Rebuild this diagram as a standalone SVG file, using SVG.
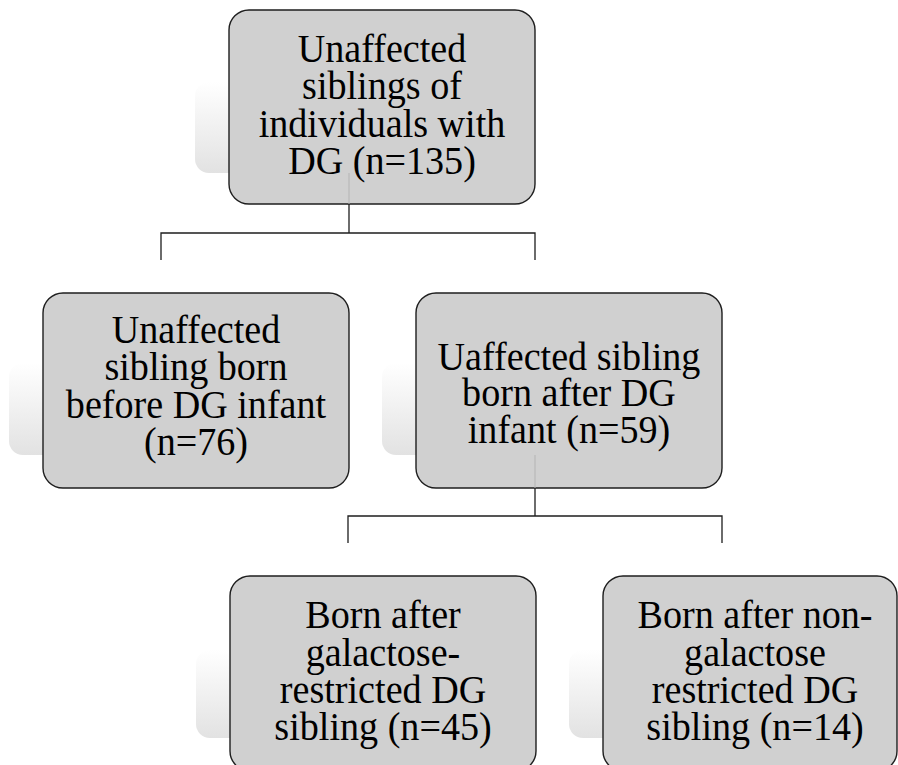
<svg xmlns="http://www.w3.org/2000/svg" width="898" height="765" viewBox="0 0 898 765">
<defs>
<linearGradient id="sg" x1="0" y1="0" x2="0" y2="1">
<stop offset="0" stop-color="#ffffff"/>
<stop offset="1" stop-color="#e2e2e2"/>
</linearGradient>
<style>
.sh{fill:url(#sg);}
.bx{fill:#d0d0d0;stroke:#1e1e1e;stroke-width:1.4;}
.t{font-family:"Liberation Serif","Times New Roman",serif;font-size:41px;fill:#000;text-anchor:middle;}
.c{fill:none;stroke:#1e1e1e;stroke-width:1.3;}
.f{fill:none;stroke:#b4b4b4;stroke-width:1;}
</style>
</defs>
<rect width="898" height="765" fill="#ffffff"/>
<g id="shadows">
<rect class="sh" x="195" y="82" width="306" height="91" rx="14"/>
<rect class="sh" x="9" y="363" width="306" height="92" rx="14"/>
<rect class="sh" x="382" y="363" width="306" height="92" rx="14"/>
<rect class="sh" x="196" y="650" width="306" height="88" rx="14"/>
<rect class="sh" x="569" y="650" width="306" height="88" rx="14"/>
</g>
<g id="node-top">
<rect class="bx" x="229" y="10" width="306" height="194" rx="20"/>
<g transform="translate(382,0) scale(0.93,1)">
<text class="t" x="0" y="62">Unaffected</text>
<text class="t" x="0" y="99">siblings of</text>
<text class="t" x="0" y="137">individuals with</text>
<text class="t" x="0" y="174">DG (n=135)</text>
</g>
</g>
<g id="node-before">
<rect class="bx" x="43" y="293" width="306" height="195" rx="20"/>
<g transform="translate(196,0) scale(0.93,1)">
<text class="t" x="0" y="343">Unaffected</text>
<text class="t" x="0" y="380">sibling born</text>
<text class="t" x="0" y="418">before DG infant</text>
<text class="t" x="0" y="455">(n=76)</text>
</g>
</g>
<g id="node-after">
<rect class="bx" x="416" y="293" width="306" height="195" rx="20"/>
<g transform="translate(569,0) scale(0.93,1)">
<text class="t" x="0" y="370">Uaffected sibling</text>
<text class="t" x="0" y="406">born after DG</text>
<text class="t" x="0" y="443">infant (n=59)</text>
</g>
</g>
<g id="node-restricted">
<rect class="bx" x="230" y="576" width="306" height="195" rx="20"/>
<g transform="translate(383,0) scale(0.93,1)">
<text class="t" x="0" y="628">Born after</text>
<text class="t" x="0" y="666">galactose-</text>
<text class="t" x="0" y="703">restricted DG</text>
<text class="t" x="0" y="740">sibling (n=45)</text>
</g>
</g>
<g id="node-nonrestricted">
<rect class="bx" x="603" y="576" width="294" height="195" rx="20"/>
<g transform="translate(755,0) scale(0.93,1)">
<text class="t" x="0" y="628">Born after non-</text>
<text class="t" x="0" y="666">galactose</text>
<text class="t" x="0" y="703">restricted DG</text>
<text class="t" x="0" y="740">sibling (n=14)</text>
</g>
</g>
<g id="connectors">
<path class="f" d="M349,173 V204"/>
<path class="f" d="M535,455 V488"/>
<path class="c" d="M349,204 V233"/>
<path class="c" d="M161,260 V233 H535 V260"/>
<path class="c" d="M535,488 V516"/>
<path class="c" d="M348,543 V516 H722 V543"/>
</g>
</svg>
